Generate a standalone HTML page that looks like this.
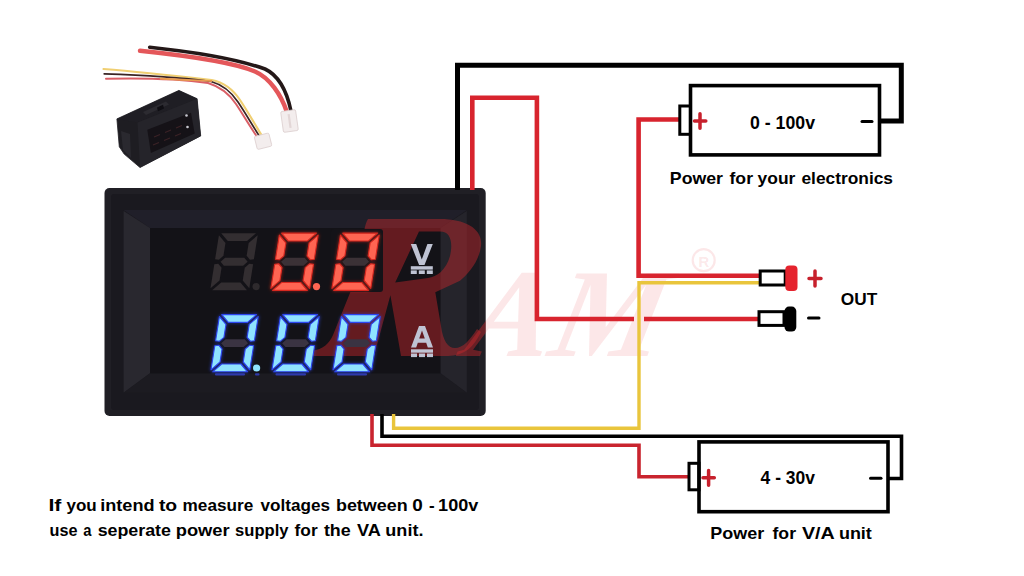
<!DOCTYPE html>
<html><head><meta charset="utf-8">
<style>
html,body{margin:0;padding:0;background:#fff;}
body{width:1024px;height:576px;overflow:hidden;position:relative;}
svg{position:absolute;left:0;top:0;display:block;}
text{font-family:"Liberation Sans",sans-serif;font-weight:bold;}
</style></head>
<body>
<svg width="1024" height="576" viewBox="0 0 1024 576">
<rect x="0" y="0" width="1024" height="576" fill="#fff"/>

<!-- small product photo -->
<g id="photo">
  <path d="M149.7,47.2 C195,52 240,60 265,69 C280,76 287,92 291,111" fill="none" stroke="#241818" stroke-width="3.6" stroke-linecap="round"/>
  <path d="M140,50.8 C190,56 235,63 255,71.5 C270,78 281,95 286.5,111" fill="none" stroke="#e4575a" stroke-width="4.4" stroke-linecap="round"/>
  <path d="M103.5,69 C140,72 185,77 211.7,80 C222,82 232,88 240,100 C248,112 256,126 262,136" fill="none" stroke="#f0cf72" stroke-width="2.2" stroke-linecap="round"/>
  <path d="M104.2,73.9 C140,75 185,78 211,81.5 C220,84 230,90 238,102 C246,114 254,128 260,137" fill="none" stroke="#3a2424" stroke-width="1.7" stroke-linecap="round"/>
  <path d="M106,78.8 C140,78 180,79 208,83 C218,86 228,92 236,104 C244,116 252,130 258,138" fill="none" stroke="#da5f66" stroke-width="2" stroke-linecap="round"/>
  <path d="M160,78.5 C180,80 195,80 212,81" fill="none" stroke="#e89a50" stroke-width="1.8"/>
  <g transform="rotate(-8 289.5 121)"><rect x="282" y="110.5" width="15" height="21" rx="1.5" fill="#f3eded" stroke="#dccfcf" stroke-width="0.8"/><rect x="288.5" y="114" width="2.2" height="14" fill="#e2d6d6"/></g>
  <g transform="rotate(-14 263 141)"><rect x="255.5" y="134.5" width="15" height="13.5" rx="1.5" fill="#f3eded" stroke="#dccfcf" stroke-width="0.8"/></g>
  <polygon points="116.9,118.9 178.9,90.4 197.1,98.7 200.7,135.9 140,167.5 124.2,154.1 119.3,146.8" fill="#1e1d22" stroke="#1e1d22" stroke-width="0.8" stroke-linejoin="round"/>
  <polygon points="116.9,118.9 178.9,90.4 197.1,98.7 137.5,122.5" fill="#1f1e24"/>
  <polygon points="143,112 166,101.5 169,104.5 146,115" fill="#2c2b31"/>
  <polygon points="157,107.5 163,104.8 164,108.5 158,111.2" fill="#0f0e13"/>
  <polygon points="121,131 130,134 131,158 123,150" fill="#2a292f"/>
  <polygon points="137.5,122.5 197.1,98.7 200.7,135.9 140,167.5" fill="#25242a"/>
  <polygon points="147.3,129.8 191,112.8 194.7,133.4 150.9,152.9" fill="#151217"/>
  <g stroke="#3b2226" stroke-width="1.2" fill="none">
    <path d="M154,137 l6,-2.5 M153,145 l6,-2.5 M165,132.5 l6,-2.5 M164,140.5 l6,-2.5 M176,128 l6,-2.5 M175,136 l6,-2.5"/>
  </g>
  <circle cx="186.5" cy="115.5" r="1.3" fill="#c8c8d0"/>
  <circle cx="187.5" cy="127" r="1.3" fill="#c8c8d0"/>
</g>

<!-- big meter -->
<defs><filter id="glow" x="-20%" y="-20%" width="140%" height="140%"><feGaussianBlur stdDeviation="1.4"/></filter><clipPath id="mclip"><rect x="104.5" y="188" width="381.2" height="228" rx="5"/></clipPath></defs>
<g id="meter">
  <rect x="104.5" y="188" width="381.2" height="228" rx="5" fill="#201f25"/>
  <rect x="111" y="194" width="368" height="216" rx="3" fill="#1a191f"/>
  <polygon points="123.6,210 466.8,210 440.4,228 150,228" fill="#201f29"/>
  <polygon points="123.6,211 150,228 150,373.3 123.6,392.8" fill="#29282f"/>
  <polygon points="466.8,211 440.4,228 440.4,373.3 466.8,392.8" fill="#25242b"/>
  <polygon points="123.6,392.8 150,373.3 440.4,373.3 466.8,392.8" fill="#1c1b21"/>
  <rect x="150" y="228" width="290.4" height="145.3" fill="#131217"/>
  <g clip-path="url(#mclip)">
    <path fill-rule="evenodd" fill="rgba(200,40,45,0.45)" d="M368,219 L440,219 C466,219 483,229 481,246 C479,262 468,274 460,280.7 L435.3,292.2 L441,326 C443,341 448,348 455,348 C463,348 470,340 477,329 L481,332 C474,347 464,356 448,356 L401,356 L390.4,295.2 L374,356 L311,356 L312,351 C323,349 329,344 333,335 L352,288 L364,232 C365,226 366,222 368,219 Z M419,231.5 L440,231.5 C451,231.5 453,243 450,256 C446,270 437,277 428,278 L395.2,282.5 Z"/>
    <text x="0" y="0" transform="translate(462.3,355.5) skewX(-12)" font-size="126" fill="rgba(200,40,45,0.45)" style="font-family:'Liberation Serif',serif;font-style:italic;font-weight:bold">AM</text>
  </g>
  <rect x="331" y="229" width="52" height="63" rx="3" fill="#141318"/>
  <g transform="translate(234.1,261.75) skewX(-9)">
<polygon points="-17.40,-28.60 17.40,-28.60 9.60,-20.80 -9.60,-20.80" fill="#332e31"/>
<polygon points="-17.40,28.60 17.40,28.60 9.60,20.80 -9.60,20.80" fill="#332e31"/>
<polygon points="-19.40,-26.60 -11.60,-18.80 -11.60,-5.90 -15.50,-2.00 -19.40,-2.50" fill="#332e31"/>
<polygon points="-19.40,26.60 -11.60,18.80 -11.60,5.90 -15.50,2.00 -19.40,2.50" fill="#332e31"/>
<polygon points="19.40,-26.60 11.60,-18.80 11.60,-5.90 15.50,-2.00 19.40,-2.50" fill="#332e31"/>
<polygon points="19.40,26.60 11.60,18.80 11.60,5.90 15.50,2.00 19.40,2.50" fill="#332e31"/>
<polygon points="-13.50,0.00 -9.60,-3.90 9.60,-3.90 13.50,0.00 9.60,3.90 -9.60,3.90" fill="#332e31"/>
</g>
<circle cx="256.10" cy="286.55" r="3.6" fill="#2e2a2d"/>
<g transform="translate(294.5,261.75) skewX(-9)">
<g filter="url(#glow)">
<polygon points="-17.40,-28.60 17.40,-28.60 9.60,-20.80 -9.60,-20.80" fill="none" stroke="#d8281f" stroke-width="1.6" stroke-linejoin="round" opacity="0.7"/>
<polygon points="-17.40,28.60 17.40,28.60 9.60,20.80 -9.60,20.80" fill="none" stroke="#d8281f" stroke-width="1.6" stroke-linejoin="round" opacity="0.7"/>
<polygon points="-19.40,-26.60 -11.60,-18.80 -11.60,-5.90 -15.50,-2.00 -19.40,-2.50" fill="none" stroke="#d8281f" stroke-width="1.6" stroke-linejoin="round" opacity="0.7"/>
<polygon points="-19.40,26.60 -11.60,18.80 -11.60,5.90 -15.50,2.00 -19.40,2.50" fill="none" stroke="#d8281f" stroke-width="1.6" stroke-linejoin="round" opacity="0.7"/>
<polygon points="19.40,-26.60 11.60,-18.80 11.60,-5.90 15.50,-2.00 19.40,-2.50" fill="none" stroke="#d8281f" stroke-width="1.6" stroke-linejoin="round" opacity="0.7"/>
<polygon points="19.40,26.60 11.60,18.80 11.60,5.90 15.50,2.00 19.40,2.50" fill="none" stroke="#d8281f" stroke-width="1.6" stroke-linejoin="round" opacity="0.7"/>
</g>
<polygon points="-17.40,-28.60 17.40,-28.60 9.60,-20.80 -9.60,-20.80" fill="#ff6552" stroke="#d8281f" stroke-width="1.1" stroke-linejoin="round"/>
<polygon points="-17.40,28.60 17.40,28.60 9.60,20.80 -9.60,20.80" fill="#ff6552" stroke="#d8281f" stroke-width="1.1" stroke-linejoin="round"/>
<polygon points="-19.40,-26.60 -11.60,-18.80 -11.60,-5.90 -15.50,-2.00 -19.40,-2.50" fill="#ff6552" stroke="#d8281f" stroke-width="1.1" stroke-linejoin="round"/>
<polygon points="-19.40,26.60 -11.60,18.80 -11.60,5.90 -15.50,2.00 -19.40,2.50" fill="#ff6552" stroke="#d8281f" stroke-width="1.1" stroke-linejoin="round"/>
<polygon points="19.40,-26.60 11.60,-18.80 11.60,-5.90 15.50,-2.00 19.40,-2.50" fill="#ff6552" stroke="#d8281f" stroke-width="1.1" stroke-linejoin="round"/>
<polygon points="19.40,26.60 11.60,18.80 11.60,5.90 15.50,2.00 19.40,2.50" fill="#ff6552" stroke="#d8281f" stroke-width="1.1" stroke-linejoin="round"/>
<polygon points="-13.50,0.00 -9.60,-3.90 9.60,-3.90 13.50,0.00 9.60,3.90 -9.60,3.90" fill="#3b3136"/>
</g>
<circle cx="316.50" cy="286.55" r="3.6" fill="#ff6552"/>
<g transform="translate(355.6,261.75) skewX(-9)">
<g filter="url(#glow)">
<polygon points="-17.40,-28.60 17.40,-28.60 9.60,-20.80 -9.60,-20.80" fill="none" stroke="#d8281f" stroke-width="1.6" stroke-linejoin="round" opacity="0.7"/>
<polygon points="-17.40,28.60 17.40,28.60 9.60,20.80 -9.60,20.80" fill="none" stroke="#d8281f" stroke-width="1.6" stroke-linejoin="round" opacity="0.7"/>
<polygon points="-19.40,-26.60 -11.60,-18.80 -11.60,-5.90 -15.50,-2.00 -19.40,-2.50" fill="none" stroke="#d8281f" stroke-width="1.6" stroke-linejoin="round" opacity="0.7"/>
<polygon points="-19.40,26.60 -11.60,18.80 -11.60,5.90 -15.50,2.00 -19.40,2.50" fill="none" stroke="#d8281f" stroke-width="1.6" stroke-linejoin="round" opacity="0.7"/>
<polygon points="19.40,-26.60 11.60,-18.80 11.60,-5.90 15.50,-2.00 19.40,-2.50" fill="none" stroke="#d8281f" stroke-width="1.6" stroke-linejoin="round" opacity="0.7"/>
<polygon points="19.40,26.60 11.60,18.80 11.60,5.90 15.50,2.00 19.40,2.50" fill="none" stroke="#d8281f" stroke-width="1.6" stroke-linejoin="round" opacity="0.7"/>
</g>
<polygon points="-17.40,-28.60 17.40,-28.60 9.60,-20.80 -9.60,-20.80" fill="#ff6552" stroke="#d8281f" stroke-width="1.1" stroke-linejoin="round"/>
<polygon points="-17.40,28.60 17.40,28.60 9.60,20.80 -9.60,20.80" fill="#ff6552" stroke="#d8281f" stroke-width="1.1" stroke-linejoin="round"/>
<polygon points="-19.40,-26.60 -11.60,-18.80 -11.60,-5.90 -15.50,-2.00 -19.40,-2.50" fill="#ff6552" stroke="#d8281f" stroke-width="1.1" stroke-linejoin="round"/>
<polygon points="-19.40,26.60 -11.60,18.80 -11.60,5.90 -15.50,2.00 -19.40,2.50" fill="#ff6552" stroke="#d8281f" stroke-width="1.1" stroke-linejoin="round"/>
<polygon points="19.40,-26.60 11.60,-18.80 11.60,-5.90 15.50,-2.00 19.40,-2.50" fill="#ff6552" stroke="#d8281f" stroke-width="1.1" stroke-linejoin="round"/>
<polygon points="19.40,26.60 11.60,18.80 11.60,5.90 15.50,2.00 19.40,2.50" fill="#ff6552" stroke="#d8281f" stroke-width="1.1" stroke-linejoin="round"/>
<polygon points="-13.50,0.00 -9.60,-3.90 9.60,-3.90 13.50,0.00 9.60,3.90 -9.60,3.90" fill="#3b3136"/>
</g>
<g transform="translate(234.6,343.2) skewX(-9)">
<g filter="url(#glow)">
<polygon points="-17.40,-28.60 17.40,-28.60 9.60,-20.80 -9.60,-20.80" fill="none" stroke="#2c46f0" stroke-width="1.6" stroke-linejoin="round" opacity="0.7"/>
<polygon points="-17.40,28.60 17.40,28.60 9.60,20.80 -9.60,20.80" fill="none" stroke="#2c46f0" stroke-width="1.6" stroke-linejoin="round" opacity="0.7"/>
<polygon points="-19.40,-26.60 -11.60,-18.80 -11.60,-5.90 -15.50,-2.00 -19.40,-2.50" fill="none" stroke="#2c46f0" stroke-width="1.6" stroke-linejoin="round" opacity="0.7"/>
<polygon points="-19.40,26.60 -11.60,18.80 -11.60,5.90 -15.50,2.00 -19.40,2.50" fill="none" stroke="#2c46f0" stroke-width="1.6" stroke-linejoin="round" opacity="0.7"/>
<polygon points="19.40,-26.60 11.60,-18.80 11.60,-5.90 15.50,-2.00 19.40,-2.50" fill="none" stroke="#2c46f0" stroke-width="1.6" stroke-linejoin="round" opacity="0.7"/>
<polygon points="19.40,26.60 11.60,18.80 11.60,5.90 15.50,2.00 19.40,2.50" fill="none" stroke="#2c46f0" stroke-width="1.6" stroke-linejoin="round" opacity="0.7"/>
</g>
<polygon points="-17.40,-28.60 17.40,-28.60 9.60,-20.80 -9.60,-20.80" fill="#8fe3ff" stroke="#2c46f0" stroke-width="1.1" stroke-linejoin="round"/>
<polygon points="-17.40,28.60 17.40,28.60 9.60,20.80 -9.60,20.80" fill="#8fe3ff" stroke="#2c46f0" stroke-width="1.1" stroke-linejoin="round"/>
<polygon points="-19.40,-26.60 -11.60,-18.80 -11.60,-5.90 -15.50,-2.00 -19.40,-2.50" fill="#8fe3ff" stroke="#2c46f0" stroke-width="1.1" stroke-linejoin="round"/>
<polygon points="-19.40,26.60 -11.60,18.80 -11.60,5.90 -15.50,2.00 -19.40,2.50" fill="#8fe3ff" stroke="#2c46f0" stroke-width="1.1" stroke-linejoin="round"/>
<polygon points="19.40,-26.60 11.60,-18.80 11.60,-5.90 15.50,-2.00 19.40,-2.50" fill="#8fe3ff" stroke="#2c46f0" stroke-width="1.1" stroke-linejoin="round"/>
<polygon points="19.40,26.60 11.60,18.80 11.60,5.90 15.50,2.00 19.40,2.50" fill="#8fe3ff" stroke="#2c46f0" stroke-width="1.1" stroke-linejoin="round"/>
<polygon points="-13.50,0.00 -9.60,-3.90 9.60,-3.90 13.50,0.00 9.60,3.90 -9.60,3.90" fill="#3a3342"/>
</g>
<circle cx="256.60" cy="368.00" r="3.6" fill="#8fe3ff"/>
<g transform="translate(295.6,343.2) skewX(-9)">
<g filter="url(#glow)">
<polygon points="-17.40,-28.60 17.40,-28.60 9.60,-20.80 -9.60,-20.80" fill="none" stroke="#2c46f0" stroke-width="1.6" stroke-linejoin="round" opacity="0.7"/>
<polygon points="-17.40,28.60 17.40,28.60 9.60,20.80 -9.60,20.80" fill="none" stroke="#2c46f0" stroke-width="1.6" stroke-linejoin="round" opacity="0.7"/>
<polygon points="-19.40,-26.60 -11.60,-18.80 -11.60,-5.90 -15.50,-2.00 -19.40,-2.50" fill="none" stroke="#2c46f0" stroke-width="1.6" stroke-linejoin="round" opacity="0.7"/>
<polygon points="-19.40,26.60 -11.60,18.80 -11.60,5.90 -15.50,2.00 -19.40,2.50" fill="none" stroke="#2c46f0" stroke-width="1.6" stroke-linejoin="round" opacity="0.7"/>
<polygon points="19.40,-26.60 11.60,-18.80 11.60,-5.90 15.50,-2.00 19.40,-2.50" fill="none" stroke="#2c46f0" stroke-width="1.6" stroke-linejoin="round" opacity="0.7"/>
<polygon points="19.40,26.60 11.60,18.80 11.60,5.90 15.50,2.00 19.40,2.50" fill="none" stroke="#2c46f0" stroke-width="1.6" stroke-linejoin="round" opacity="0.7"/>
</g>
<polygon points="-17.40,-28.60 17.40,-28.60 9.60,-20.80 -9.60,-20.80" fill="#8fe3ff" stroke="#2c46f0" stroke-width="1.1" stroke-linejoin="round"/>
<polygon points="-17.40,28.60 17.40,28.60 9.60,20.80 -9.60,20.80" fill="#8fe3ff" stroke="#2c46f0" stroke-width="1.1" stroke-linejoin="round"/>
<polygon points="-19.40,-26.60 -11.60,-18.80 -11.60,-5.90 -15.50,-2.00 -19.40,-2.50" fill="#8fe3ff" stroke="#2c46f0" stroke-width="1.1" stroke-linejoin="round"/>
<polygon points="-19.40,26.60 -11.60,18.80 -11.60,5.90 -15.50,2.00 -19.40,2.50" fill="#8fe3ff" stroke="#2c46f0" stroke-width="1.1" stroke-linejoin="round"/>
<polygon points="19.40,-26.60 11.60,-18.80 11.60,-5.90 15.50,-2.00 19.40,-2.50" fill="#8fe3ff" stroke="#2c46f0" stroke-width="1.1" stroke-linejoin="round"/>
<polygon points="19.40,26.60 11.60,18.80 11.60,5.90 15.50,2.00 19.40,2.50" fill="#8fe3ff" stroke="#2c46f0" stroke-width="1.1" stroke-linejoin="round"/>
<polygon points="-13.50,0.00 -9.60,-3.90 9.60,-3.90 13.50,0.00 9.60,3.90 -9.60,3.90" fill="#3a3342"/>
</g>
<g transform="translate(356.6,343.2) skewX(-9)">
<g filter="url(#glow)">
<polygon points="-17.40,-28.60 17.40,-28.60 9.60,-20.80 -9.60,-20.80" fill="none" stroke="#2c46f0" stroke-width="1.6" stroke-linejoin="round" opacity="0.7"/>
<polygon points="-17.40,28.60 17.40,28.60 9.60,20.80 -9.60,20.80" fill="none" stroke="#2c46f0" stroke-width="1.6" stroke-linejoin="round" opacity="0.7"/>
<polygon points="-19.40,-26.60 -11.60,-18.80 -11.60,-5.90 -15.50,-2.00 -19.40,-2.50" fill="none" stroke="#2c46f0" stroke-width="1.6" stroke-linejoin="round" opacity="0.7"/>
<polygon points="-19.40,26.60 -11.60,18.80 -11.60,5.90 -15.50,2.00 -19.40,2.50" fill="none" stroke="#2c46f0" stroke-width="1.6" stroke-linejoin="round" opacity="0.7"/>
<polygon points="19.40,-26.60 11.60,-18.80 11.60,-5.90 15.50,-2.00 19.40,-2.50" fill="none" stroke="#2c46f0" stroke-width="1.6" stroke-linejoin="round" opacity="0.7"/>
<polygon points="19.40,26.60 11.60,18.80 11.60,5.90 15.50,2.00 19.40,2.50" fill="none" stroke="#2c46f0" stroke-width="1.6" stroke-linejoin="round" opacity="0.7"/>
</g>
<polygon points="-17.40,-28.60 17.40,-28.60 9.60,-20.80 -9.60,-20.80" fill="#8fe3ff" stroke="#2c46f0" stroke-width="1.1" stroke-linejoin="round"/>
<polygon points="-17.40,28.60 17.40,28.60 9.60,20.80 -9.60,20.80" fill="#8fe3ff" stroke="#2c46f0" stroke-width="1.1" stroke-linejoin="round"/>
<polygon points="-19.40,-26.60 -11.60,-18.80 -11.60,-5.90 -15.50,-2.00 -19.40,-2.50" fill="#8fe3ff" stroke="#2c46f0" stroke-width="1.1" stroke-linejoin="round"/>
<polygon points="-19.40,26.60 -11.60,18.80 -11.60,5.90 -15.50,2.00 -19.40,2.50" fill="#8fe3ff" stroke="#2c46f0" stroke-width="1.1" stroke-linejoin="round"/>
<polygon points="19.40,-26.60 11.60,-18.80 11.60,-5.90 15.50,-2.00 19.40,-2.50" fill="#8fe3ff" stroke="#2c46f0" stroke-width="1.1" stroke-linejoin="round"/>
<polygon points="19.40,26.60 11.60,18.80 11.60,5.90 15.50,2.00 19.40,2.50" fill="#8fe3ff" stroke="#2c46f0" stroke-width="1.1" stroke-linejoin="round"/>
<polygon points="-13.50,0.00 -9.60,-3.90 9.60,-3.90 13.50,0.00 9.60,3.90 -9.60,3.90" fill="#3a3342"/>
</g>
  <g fill="#3444d8" opacity="0.75">
    <rect x="215" y="373.3" width="30" height="2.2" rx="1"/><rect x="255" y="373.3" width="4.5" height="2.2" rx="1"/>
    <rect x="275.5" y="373.3" width="30.5" height="2.2" rx="1"/>
    <rect x="337" y="373.3" width="30" height="2.2" rx="1"/>
  </g>
  <g fill="#bfc3d3">
    <polygon points="410.8,244 416.2,244 421.8,259.5 427.4,244 432.8,244 424.5,265 419.1,265"/>
    <rect x="410.8" y="266.2" width="22" height="3.4"/>
    <rect x="410.8" y="270.4" width="6" height="3.6"/><rect x="418.8" y="270.4" width="6" height="3.6"/><rect x="426.8" y="270.4" width="6" height="3.6"/>
  </g>
  <g fill="#bfc3d3">
    <path fill-rule="evenodd" d="M419,326 L425,326 L433,347.5 L427.8,347.5 L426.2,342.8 L417.8,342.8 L416.2,347.5 L411,347.5 Z M419.2,338.6 L424.8,338.6 L422,330.5 Z"/>
    <rect x="411" y="349.3" width="22" height="3.4"/>
    <rect x="411" y="353.5" width="6" height="3.6"/><rect x="419" y="353.5" width="6" height="3.6"/><rect x="427" y="353.5" width="6" height="3.6"/>
  </g>
</g>

<!-- watermark on white -->
<g fill="rgba(225,40,45,0.11)">
  <path fill-rule="evenodd" d="M368,219 L440,219 C466,219 483,229 481,246 C479,262 468,274 460,280.7 L435.3,292.2 L441,326 C443,341 448,348 455,348 C463,348 470,340 477,329 L481,332 C474,347 464,356 448,356 L401,356 L390.4,295.2 L374,356 L311,356 L312,351 C323,349 329,344 333,335 L352,288 L364,232 C365,226 366,222 368,219 Z M419,231.5 L440,231.5 C451,231.5 453,243 450,256 C446,270 437,277 428,278 L395.2,282.5 Z" clip-path="url(#outclip)"/>
  <g clip-path="url(#outclip)"><text x="0" y="0" transform="translate(462.3,355.5) skewX(-12)" font-size="126" style="font-family:'Liberation Serif',serif;font-style:italic;font-weight:bold">AM</text></g>
  <defs><clipPath id="outclip"><path clip-rule="evenodd" d="M0,0 H1024 V576 H0 Z M104.5,188 H485.7 V416 H104.5 Z"/></clipPath></defs>
  <circle cx="703.7" cy="260.2" r="11" fill="none" stroke="rgba(225,40,45,0.11)" stroke-width="2.2"/>
  <text x="703.8" y="266.5" font-size="15" text-anchor="middle" style="font-family:'Liberation Sans',sans-serif;font-weight:bold">R</text>
</g>

<!-- wires -->
<g fill="none" stroke-linejoin="miter" stroke-linecap="butt">
  <path d="M457.5,190 V65.3 H901.3 V121 H879" stroke="#000" stroke-width="5"/>
  <path d="M472.3,190 V97.7 H536.9 V319 H634" stroke="#d8242e" stroke-width="4.6"/>
  <path d="M644,319 H759" stroke="#d8242e" stroke-width="4.6"/>
  <path d="M680,119.5 H638.6 V275.7 H760" stroke="#d8242e" stroke-width="4.6"/>
  <path d="M760,282.8 H639 V428.3 H393.6 V414" stroke="#e9c53c" stroke-width="3.4"/>
  <path d="M382,414 V436.3 H901.5 V478.5 H887" stroke="#000" stroke-width="3.6"/>
  <path d="M372,414 V445.2 H639 V476.8 H689" stroke="#c9242e" stroke-width="3.6"/>
</g>

<!-- top battery -->
<g fill="none" stroke="#000">
  <rect x="690.5" y="85.6" width="189" height="69.3" stroke-width="3.6"/>
  <rect x="679.8" y="106" width="10.7" height="28.3" stroke-width="3"/>
  <rect x="699" y="441.9" width="189" height="69.8" stroke-width="3.6"/>
  <rect x="689" y="463.3" width="10" height="26.5" stroke-width="3"/>
</g>
<g stroke="#c7202c" stroke-width="3.5" stroke-linecap="round" fill="none">
  <path d="M694.5,120.9 H705.8 M700,113.8 V128.3"/>
  <path d="M703,477.8 H714.3 M708.6,470.6 V485.2"/>
  <path d="M809,278.4 H821 M815,271 V286"/>
</g>
<g stroke="#000" stroke-width="3" stroke-linecap="round" fill="none">
  <path d="M862,121.5 H872"/>
  <path d="M870.5,478.3 H881"/>
  <path d="M808.5,318 H819"/>
</g>

<!-- OUT connectors -->
<rect x="760.2" y="271" width="25" height="14" fill="#fff" stroke="#000" stroke-width="3"/>
<rect x="785.3" y="265.6" width="12.2" height="25.4" rx="4" fill="#e5232e"/>
<rect x="759" y="311.7" width="25" height="13.7" fill="#fff" stroke="#000" stroke-width="3"/>
<rect x="784.5" y="306.6" width="11.8" height="25" rx="4.5" fill="#000"/>

<!-- labels -->
<text x="750" y="128.7" font-size="18" textLength="65" lengthAdjust="spacingAndGlyphs">0 - 100v</text>

<text x="760.6" y="484.2" font-size="18" textLength="54.4" lengthAdjust="spacingAndGlyphs">4 - 30v</text>

<text x="840.8" y="304.7" font-size="16.4" textLength="36.4" lengthAdjust="spacingAndGlyphs">OUT</text>


<!-- words -->
<text x="48.45" y="510.8" font-size="17" textLength="12.99" lengthAdjust="spacingAndGlyphs">If</text>
<text x="66.5" y="510.8" font-size="17" textLength="30.23" lengthAdjust="spacingAndGlyphs">you</text>
<text x="100.23" y="510.8" font-size="17" textLength="54.33" lengthAdjust="spacingAndGlyphs">intend</text>
<text x="158.9" y="510.8" font-size="17" textLength="18.25" lengthAdjust="spacingAndGlyphs">to</text>
<text x="182.59" y="510.8" font-size="17" textLength="70.66" lengthAdjust="spacingAndGlyphs">measure</text>
<text x="260.6" y="510.8" font-size="17" textLength="69.49" lengthAdjust="spacingAndGlyphs">voltages</text>
<text x="335.95" y="510.8" font-size="17" textLength="71.74" lengthAdjust="spacingAndGlyphs">between</text>
<text x="412.29" y="510.8" font-size="17" textLength="10.53" lengthAdjust="spacingAndGlyphs">0</text>
<text x="428.9" y="510.8" font-size="17" textLength="5.67" lengthAdjust="spacingAndGlyphs">-</text>
<text x="438.14" y="510.8" font-size="17" textLength="40.18" lengthAdjust="spacingAndGlyphs">100v</text>
<text x="49.55" y="536" font-size="17" textLength="27.94" lengthAdjust="spacingAndGlyphs">use</text>
<text x="83.23" y="536" font-size="17" textLength="8.21" lengthAdjust="spacingAndGlyphs">a</text>
<text x="97.65" y="536" font-size="17" textLength="73.33" lengthAdjust="spacingAndGlyphs">seperate</text>
<text x="175.72" y="536" font-size="17" textLength="53.94" lengthAdjust="spacingAndGlyphs">power</text>
<text x="235.02" y="536" font-size="17" textLength="53.48" lengthAdjust="spacingAndGlyphs">supply</text>
<text x="294.6" y="536" font-size="17" textLength="23.08" lengthAdjust="spacingAndGlyphs">for</text>
<text x="323.9" y="536" font-size="17" textLength="26.83" lengthAdjust="spacingAndGlyphs">the</text>
<text x="357.0" y="536" font-size="17" textLength="23.88" lengthAdjust="spacingAndGlyphs">VA</text>
<text x="385.34" y="536" font-size="17" textLength="38.11" lengthAdjust="spacingAndGlyphs">unit.</text>
<text x="669.86" y="184" font-size="17" textLength="53.17" lengthAdjust="spacingAndGlyphs">Power</text>
<text x="729.5" y="184" font-size="17" textLength="23.5" lengthAdjust="spacingAndGlyphs">for</text>
<text x="757.6" y="184" font-size="17" textLength="37.74" lengthAdjust="spacingAndGlyphs">your</text>
<text x="801.48" y="184" font-size="17" textLength="91.5" lengthAdjust="spacingAndGlyphs">electronics</text>
<text x="710.31" y="539" font-size="16.5" textLength="53.87" lengthAdjust="spacingAndGlyphs">Power</text>
<text x="772.5" y="539" font-size="16.5" textLength="23.5" lengthAdjust="spacingAndGlyphs">for</text>
<text x="801.9" y="539" font-size="16.5" textLength="32.81" lengthAdjust="spacingAndGlyphs">V/A</text>
<text x="838.91" y="539" font-size="16.5" textLength="32.96" lengthAdjust="spacingAndGlyphs">unit</text>
<!-- /words -->
</svg>
</body></html>
